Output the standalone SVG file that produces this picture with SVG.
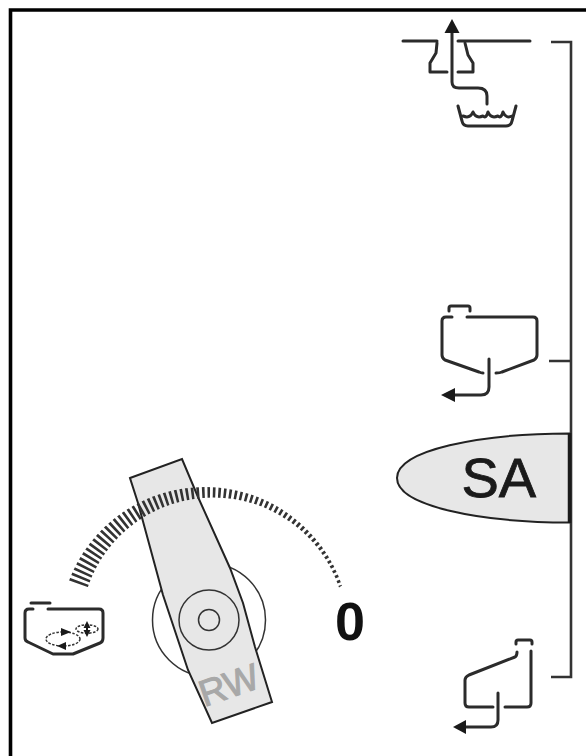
<svg xmlns="http://www.w3.org/2000/svg" width="586" height="756" viewBox="0 0 586 756">
<style>
.l{fill:none;stroke:#2b2b2b;stroke-width:3;stroke-linecap:round;stroke-linejoin:round}
.k{fill:#1a1a1a;stroke:none}
.g{fill:#e7e7e7;stroke:#222;stroke-width:2}
.t{fill:none;stroke:#333;stroke-width:1.5}
text{font-family:"Liberation Sans",Arial,sans-serif}
</style>
<defs>
<mask id="tickMask" maskUnits="userSpaceOnUse" x="0" y="440" width="400" height="200">
<circle cx="209.5" cy="630.5" r="138" fill="none" stroke="#fff" stroke-width="50" stroke-dasharray="2.6 2.8"/>
</mask>
</defs>
<rect width="586" height="756" fill="#fff"/>
<g id="frame"><path d="M10.500 756V10H586" fill="none" stroke="#000" stroke-width="3.600"/></g>
<g id="connectors">
<path d="M551 42H571V677H551M549 361H571" fill="none" stroke="#333" stroke-width="2.600"/>
</g>
<g id="hand-wheel">
<circle cx="209" cy="620" r="56.500" fill="#fff" class="t"/>
</g>
<g id="lever-rw">
<path class="g" d="M130 478L182 459L198 497L230 568L243 603L255 647L272 702L212 723L188 670L163 595L138 503Z"/>
<circle class="t" cx="209" cy="620" r="30"/>
<circle class="t" cx="209" cy="620" r="10.500"/>
<text x="0" y="0" transform="translate(233 697) rotate(-19)" font-size="37" fill="#a8a8a8" stroke="#a8a8a8" stroke-width="1" text-anchor="middle">RW</text>
</g>
<g id="scale">
<path mask="url(#tickMask)" fill="#333" d="M68.500 582A145 145 0 0 1 342 585.500L339 587.500A132.700 132.700 0 0 0 87.500 588Z"/>
<text x="350" y="640" font-size="54" font-weight="bold" fill="#111" text-anchor="middle">0</text>
</g>
<g id="tank-rotation">
<path class="l" d="M31 603H50"/>
<path class="l" d="M33 609H29Q25 609 25 613V638Q25 641 28 642L53 654H73L100 643Q103 642 103 638V613Q103 609 99 609H48"/>
<ellipse class="t" cx="63" cy="639" rx="17" ry="7" stroke-dasharray="2.500 1.500"/>
<ellipse class="t" cx="87" cy="629" rx="11" ry="4.200" stroke-dasharray="2.500 1.500"/>
<path class="k" d="M61 628L71 632L61 636ZM57 646L66 642V650Z"/>
<path class="k" d="M87 621L90.500 628H88V630H90.500L87 637L83.500 630H86V628H83.500Z"/>
</g>
<g id="tank-top">
<path class="l" d="M403 41H437M458 41H530"/>
<path class="l" d="M437 43L436 53L430 63V72H447M465 43L468 55L473 63V72H458"/>
<path class="l" d="M452 30V82Q452 88 459 88H478Q487 88 487 96V104"/>
<path class="k" d="M452 19L459.500 33H444.500Z"/>
<path class="l" d="M458 106L462 121Q463 126 468 126H506Q511 126 512 121L516 106"/>
<path class="l" d="M463 116Q470 119 473 112Q476 119 483 116Q486 119 488 112Q491 119 498 116Q501 119 503 112Q506 119 512 116" stroke-width="2.200"/>
</g>
<g id="tank-middle">
<path class="l" d="M449 311V308Q449 306 451 306H468Q470 306 470 308V311"/>
<path class="l" d="M452 317H446Q442 317 442 321V355Q442 358 445 360L479 372Q481 373 483 373M467 317H533Q537 317 537 321V355Q537 358 534 360L502 372Q500 373 496 373"/>
<path class="l" d="M489 359V387Q489 395 481 395H453"/>
<path class="k" d="M441 395L455 388V402Z"/>
</g>
<g id="sa">
<path class="g" d="M569 433.500C480 433.500 397 450 397 478C397 506 480 522.500 569 522.500Z"/>
<path d="M569.500 433V523" stroke="#1a1a1a" stroke-width="3.500"/>
<text x="461.500" y="496.500" font-size="56" fill="#1a1a1a" stroke="#1a1a1a" stroke-width="0.800">SA</text>
</g>
<g id="tank-bottom">
<path class="l" d="M516 644V642Q516 640 518 640H530Q532 640 532 642V644"/>
<path class="l" d="M531 651V703Q531 707 527 707H505M517 652Q517 656 515 657L469 675Q465 677 465 680V703Q465 707 469 707H493"/>
<path class="l" d="M498 693V720Q498 727 491 727H465"/>
<path class="k" d="M453 727L466 720V734Z"/>
</g>
</svg>
